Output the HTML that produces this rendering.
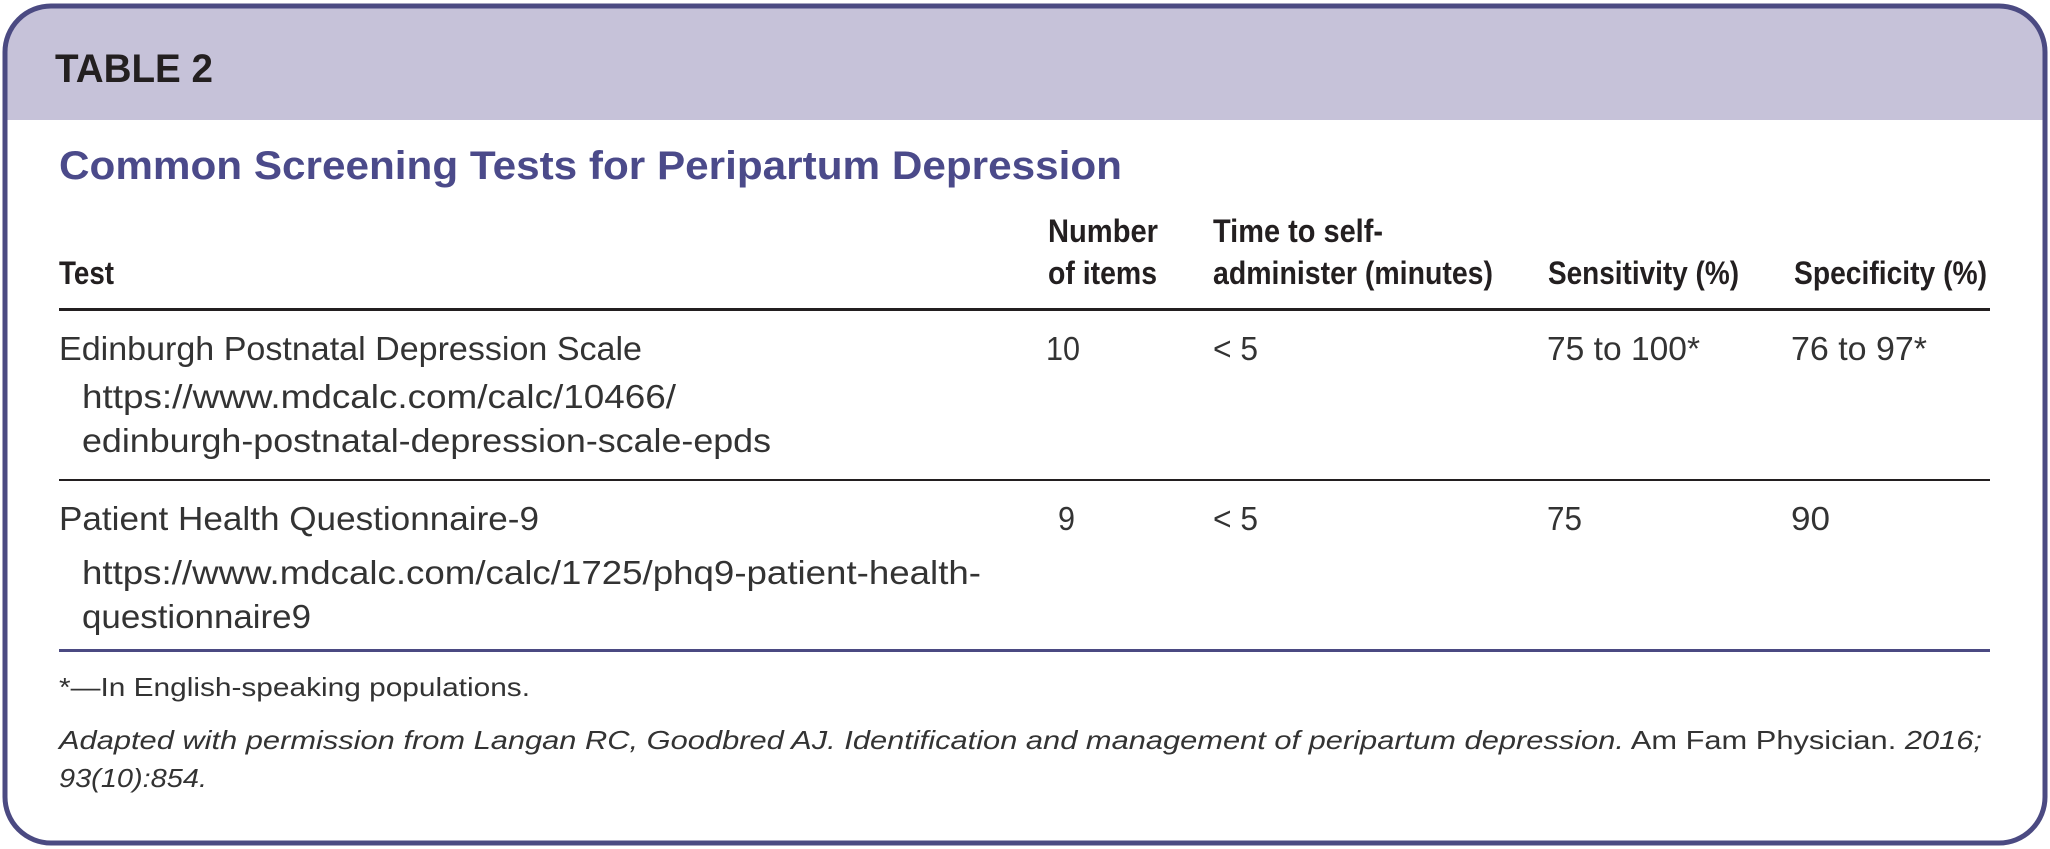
<!DOCTYPE html>
<html><head><meta charset="utf-8"><style>
html,body{margin:0;padding:0;background:#fff;}
svg{display:block;}
text{font-family:"Liberation Sans",sans-serif;fill:#231f20;}
.h{font-weight:bold;font-size:32px;}
.b{font-size:33px;fill:#333;}
.f{font-size:26px;fill:#333;}
</style></head><body>
<svg width="2050" height="849" viewBox="0 0 2050 849" xmlns="http://www.w3.org/2000/svg">
<defs><clipPath id="c"><rect x="5" y="6" width="2040" height="837" rx="46"/></clipPath></defs>
<rect x="5" y="6" width="2040" height="837" rx="46" fill="#fff"/>
<rect x="0" y="0" width="2050" height="120" fill="#c6c2d9" clip-path="url(#c)"/>
<rect x="5" y="6" width="2040" height="837" rx="46" fill="none" stroke="#4b4a82" stroke-width="5"/>
<text x="55" y="82" font-size="40" font-weight="600" textLength="158" lengthAdjust="spacingAndGlyphs">TABLE 2</text>
<text x="59" y="179" font-size="40" font-weight="bold" style="fill:#4b4a8a" textLength="1063" lengthAdjust="spacingAndGlyphs">Common Screening Tests for Peripartum Depression</text>

<text class="h" x="59" y="284" textLength="55" lengthAdjust="spacingAndGlyphs">Test</text>
<text class="h" x="1048" y="242" textLength="110" lengthAdjust="spacingAndGlyphs">Number</text>
<text class="h" x="1048" y="284" textLength="109" lengthAdjust="spacingAndGlyphs">of items</text>
<text class="h" x="1213" y="242" textLength="170" lengthAdjust="spacingAndGlyphs">Time to self-</text>
<text class="h" x="1213" y="284" textLength="280" lengthAdjust="spacingAndGlyphs">administer (minutes)</text>
<text class="h" x="1548" y="284" textLength="191" lengthAdjust="spacingAndGlyphs">Sensitivity (%)</text>
<text class="h" x="1794" y="284" textLength="193" lengthAdjust="spacingAndGlyphs">Specificity (%)</text>
<rect x="59" y="308" width="1931" height="3" fill="#231f20"/>

<text class="b" x="59" y="360" textLength="583" lengthAdjust="spacingAndGlyphs">Edinburgh Postnatal Depression Scale</text>
<text class="b" x="82" y="408" textLength="594" lengthAdjust="spacingAndGlyphs">https://www.mdcalc.com/calc/10466/</text>
<text class="b" x="82" y="452" textLength="689" lengthAdjust="spacingAndGlyphs">edinburgh-postnatal-depression-scale-epds</text>
<text class="b" x="1046" y="360" textLength="34" lengthAdjust="spacingAndGlyphs">10</text>
<text class="b" x="1213" y="360" textLength="45" lengthAdjust="spacingAndGlyphs">&lt; 5</text>
<text class="b" x="1547" y="360" textLength="153" lengthAdjust="spacingAndGlyphs">75 to 100*</text>
<text class="b" x="1791" y="360" textLength="136" lengthAdjust="spacingAndGlyphs">76 to 97*</text>
<rect x="59" y="479" width="1931" height="2" fill="#231f20"/>

<text class="b" x="59" y="530" textLength="480" lengthAdjust="spacingAndGlyphs">Patient Health Questionnaire-9</text>
<text class="b" x="82" y="584" textLength="899" lengthAdjust="spacingAndGlyphs">https://www.mdcalc.com/calc/1725/phq9-patient-health-</text>
<text class="b" x="82" y="628" textLength="229" lengthAdjust="spacingAndGlyphs">questionnaire9</text>
<text class="b" x="1058" y="530" textLength="17" lengthAdjust="spacingAndGlyphs">9</text>
<text class="b" x="1213" y="530" textLength="45" lengthAdjust="spacingAndGlyphs">&lt; 5</text>
<text class="b" x="1547" y="530" textLength="35" lengthAdjust="spacingAndGlyphs">75</text>
<text class="b" x="1791" y="530" textLength="39" lengthAdjust="spacingAndGlyphs">90</text>
<rect x="59" y="649" width="1931" height="3" fill="#4b4a82"/>

<text class="f" x="59" y="696" textLength="471" lengthAdjust="spacingAndGlyphs">*—In English-speaking populations.</text>
<text class="f" x="59" y="749" textLength="1923" lengthAdjust="spacingAndGlyphs"><tspan font-style="italic">Adapted with permission from Langan RC, Goodbred AJ. Identification and management of peripartum depression.</tspan> Am Fam Physician. <tspan font-style="italic">2016;</tspan></text>
<text class="f" x="59" y="787" font-style="italic" textLength="148" lengthAdjust="spacingAndGlyphs">93(10):854.</text>
</svg>
</body></html>
